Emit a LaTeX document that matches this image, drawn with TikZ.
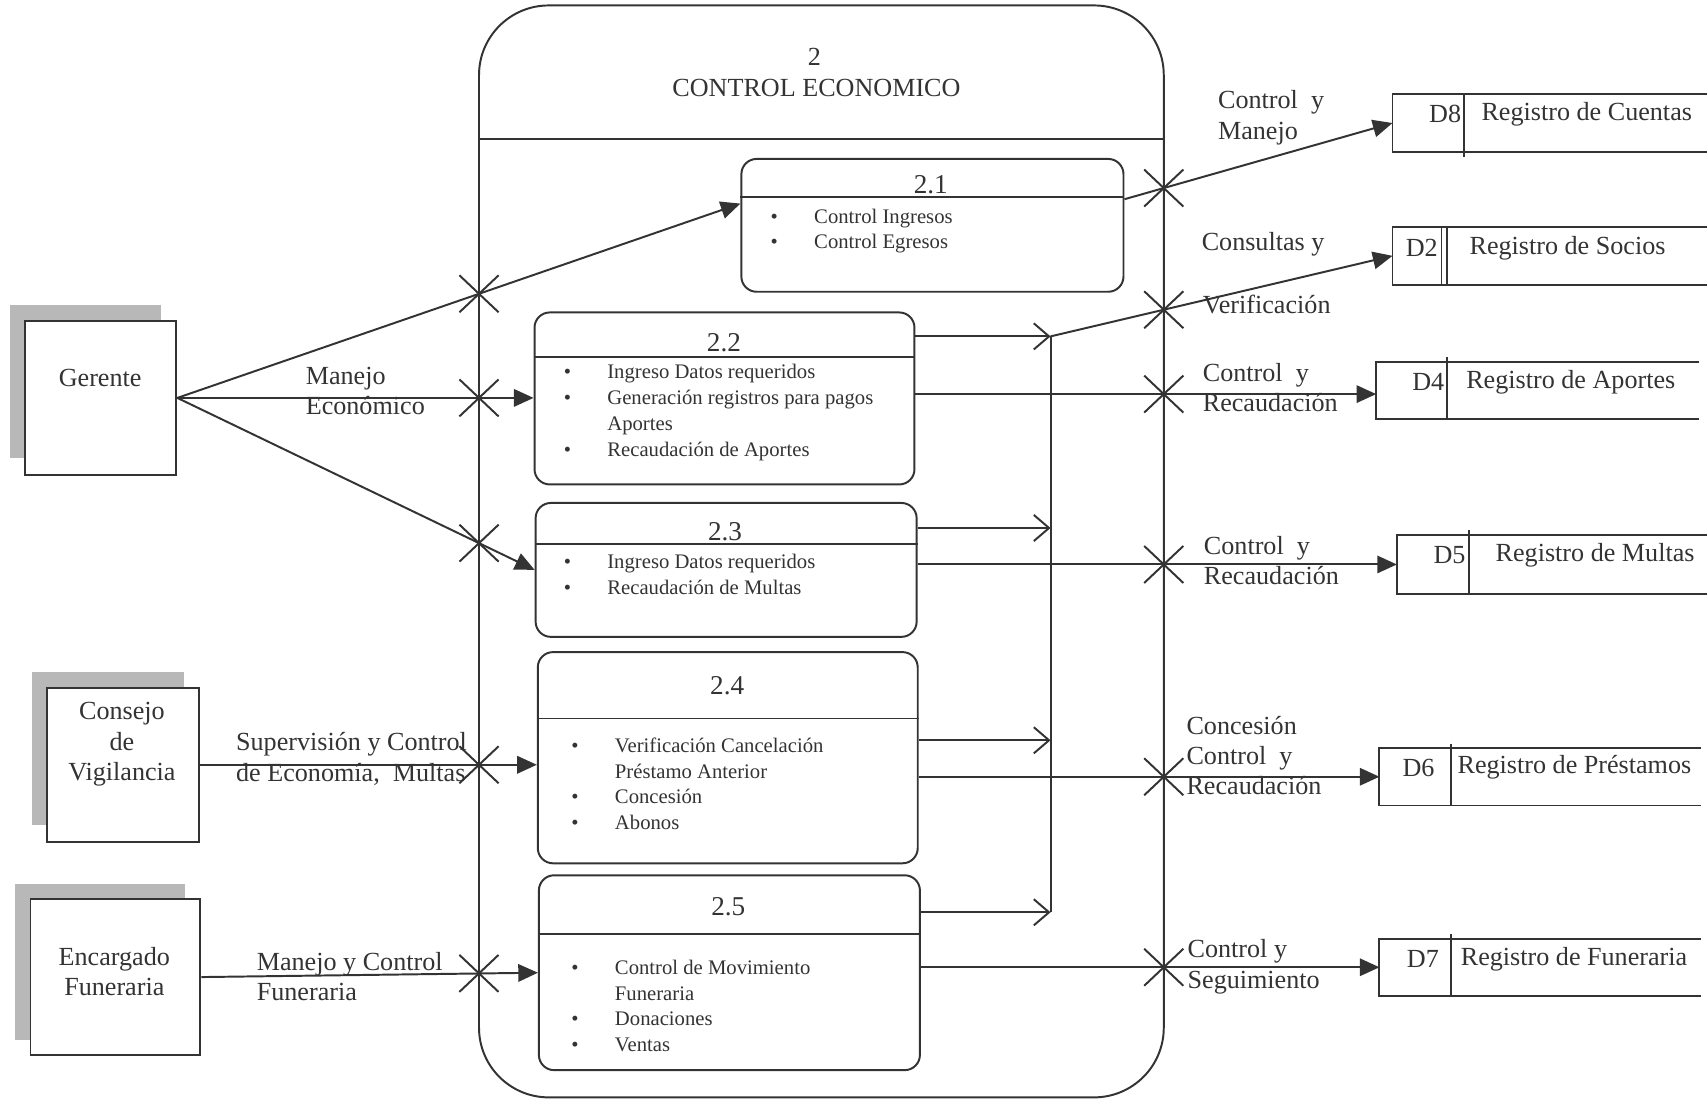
\documentclass[tikz,border=0pt]{standalone}
\usepackage{fontspec}
\setmainfont{Liberation Serif}
\usetikzlibrary{arrows.meta,calc}
\newcommand\itm{\makebox[20pt][l]{\textbullet}}
\newcommand\noitm{\makebox[20pt][l]{}}
\begin{document}
\begin{tikzpicture}[x=0.5pt,y=-0.5pt, line width=0.9pt, color=black!80,
  every node/.style={font=\fontsize{12}{14}\selectfont, inner sep=0pt},
  box/.style={draw, fill=white},
  shadow/.style={fill=black!28, draw=none},
  sub/.style={draw, rounded corners=7pt},
  flow/.style={-{Triangle[length=9pt,width=8pt]}},
  merge/.style={-{Straight Barb[length=7pt,width=12pt]}},
  lbl/.style={align=left, anchor=west},
  small/.style={font=\fontsize{9.5}{11.8}\selectfont, align=left, anchor=north west},
  num/.style={font=\fontsize{12.5}{14}\selectfont}]
\useasboundingbox (0,0) rectangle (1568,1011);

% external entities
\fill[shadow] (9,280) rectangle (148,421);
\node[box, minimum width=69.5pt, minimum height=70.5pt] (ger) at (92.5,365.5) {};
\node at (92,347) {Gerente};
\fill[shadow] (29,617) rectangle (169,758);
\node[box, minimum width=70pt, minimum height=70.5pt] (cons) at (113,702.5) {};
\node[align=center] at (112,684) {Consejo\\de\\Vigilancia};
\fill[shadow] (14,812) rectangle (170,955);
\node[box, minimum width=78pt, minimum height=71.5pt] (enc) at (106,897.5) {};
\node[align=center] at (105,892.5) {Encargado\\Funeraria};

% main process
\node[draw, rounded corners=32pt, minimum width=314.5pt, minimum height=501.5pt] (proc) at (754.5,506.5) {};
\draw (proc.west |- 0,128) -- (proc.east |- 0,128);
\node at (748,52) {2};
\node at (750,81) {CONTROL ECONOMICO};
\coordinate (LT) at (440,0); \coordinate (LB) at (440,1011);
\coordinate (RT) at (1069,0); \coordinate (RB) at (1069,1011);

% sub processes
\node[sub, minimum width=175.5pt, minimum height=61pt] (p21) at (856.5,207) {};
\draw (p21.west |- 0,181) -- (p21.east |- 0,181);
\node[num] at (855,170) {2.1};
\node[small] at (707,191) {\itm Control Ingresos\\\itm Control Egresos};

\node[sub, minimum width=174.5pt, minimum height=79pt] (p22) at (665.5,366) {};
\draw (p22.west |- 0,328) -- (p22.east |- 0,328);
\node[num] at (665,315) {2.2};
\node[small] at (517,334) {\itm Ingreso Datos requeridos\\\itm Generación registros para pagos\\\noitm Aportes\\\itm Recaudación de Aportes};

\node[sub, minimum width=175pt, minimum height=61.5pt] (p23) at (667,523.5) {};
\draw (p23.west |- 0,500) -- (p23.east |- 0,500);
\node[num] at (666,488) {2.3};
\node[small] at (517,508) {\itm Ingreso Datos requeridos\\\itm Recaudación de Multas};

\node[sub, minimum width=174.5pt, minimum height=97pt] (p24) at (668.5,696) {};
\draw (p24.west |- 0,660) -- (p24.east |- 0,660);
\node[num] at (668,630) {2.4};
\node[small] at (524,677) {\itm Verificación Cancelación\\\noitm Préstamo Anterior\\\itm Concesión\\\itm Abonos};

\node[sub, minimum width=175pt, minimum height=89.5pt] (p25) at (670,893.5) {};
\draw (p25.west |- 0,858) -- (p25.east |- 0,858);
\node[num] at (669,833) {2.5};
\node[small] at (524,881) {\itm Control de Movimiento\\\noitm Funeraria\\\itm Donaciones\\\itm Ventas};

% data stores
\node[minimum width=144pt, minimum height=26pt] (d8) at (1424,113) {};
\draw (d8.north east) -- (d8.north west) -- (d8.south west) -- (d8.south east);
\draw ([xshift=33pt]d8.north west) -- ([xshift=33pt,yshift=-2pt]d8.south west);
\node[anchor=east] at (1343,105) {D8};
\node[anchor=west] at (1360,105) {Registro de Cuentas};

\node[minimum width=144pt, minimum height=26pt] (d2) at (1424,235) {};
\draw (d2.north east) -- (d2.north west) -- (d2.south west) -- (d2.south east);
\draw ([xshift=22.5pt]d2.north west) -- ([xshift=22.5pt]d2.south west);
\draw ([xshift=25pt]d2.north west) -- ([xshift=25pt]d2.south west);
\node at (1306,228) {D2};
\node[anchor=west] at (1349,228) {Registro de Socios};

\node[minimum width=147.5pt, minimum height=25.5pt] (d4) at (1412.5,358.5) {};
\draw (d4.north east) -- (d4.north west) -- (d4.south west) -- (d4.south east);
\draw ([xshift=32.5pt,yshift=2pt]d4.north west) -- ([xshift=32.5pt]d4.south west);
\node at (1312,351) {D4};
\node[anchor=west] at (1346,351) {Registro de Aportes};

\node[minimum width=142pt, minimum height=26.5pt] (d5) at (1426,518.5) {};
\draw (d5.north east) -- (d5.north west) -- (d5.south west) -- (d5.south east);
\draw ([xshift=33pt,yshift=2pt]d5.north west) -- ([xshift=33pt]d5.south west);
\node[anchor=east] at (1347,510) {D5};
\node[anchor=west] at (1373,510) {Registro de Multas};

\node[minimum width=147pt, minimum height=25.5pt] (d6) at (1415,713.5) {};
\draw (d6.north east) -- (d6.north west) -- (d6.south west) -- (d6.south east);
\draw ([xshift=33pt,yshift=2pt]d6.north west) -- ([xshift=33pt]d6.south west);
\node at (1303,705) {D6};
\node[anchor=west] at (1338,705) {Registro de Préstamos};

\node[minimum width=147pt, minimum height=25.5pt] (d7) at (1415,888.5) {};
\draw (d7.north east) -- (d7.north west) -- (d7.south west) -- (d7.south east);
\draw ([xshift=33pt,yshift=2pt]d7.north west) -- ([xshift=33pt]d7.south west);
\node at (1307,881) {D7};
\node[anchor=west] at (1341,881) {Registro de Funeraria};

% flows in
\coordinate (gE) at (ger.east);
\coordinate (p21in) at ([yshift=10pt]p21.west);
\coordinate (p23W) at (p23.west);
\coordinate (eE) at (enc.east);
\coordinate (p25W) at (p25.west);
\draw[flow] (gE) -- (p21in);
\draw[flow] (gE) -- (gE -| p22.west);
\draw[flow] (gE) -- (p23W);
\draw[flow] (cons.east) -- (cons.east -| p24.west);
\draw[flow] (eE) -- (p25W);

% collector
\coordinate (c2) at (965,309);
\coordinate (c3) at (965,485);
\coordinate (c4) at (965,680);
\coordinate (c5) at (965,838);
\draw[merge] (p22.east |- c2) -- (c2);
\draw[merge] (p23.east |- c3) -- (c3);
\draw[merge] (p24.east |- c4) -- (c4);
\draw[merge] (p25.east |- c5) -- (c5);
\draw (c2) -- (c5);
\coordinate (d2W) at (d2.west);
\draw[flow] (c2) -- (d2W);

% flows out
\coordinate (p21out) at ([yshift=12pt]p21.east);
\coordinate (d8W) at (d8.west);
\coordinate (p22out) at ([yshift=2pt]p22.east);
\draw[flow] (p21out) -- (d8W);
\draw[flow] (p22out) -- (p22out -| d4.west);
\draw[flow] (d5.west -| p23.east) -- (d5.west);
\draw[flow] (d6.west -| p24.east) -- (d6.west);
\draw[flow] (d7.west -| p25.east) -- (d7.west);

% cross marks
\coordinate (xa) at (intersection of gE--p21in and LT--LB);
\coordinate (xb) at (gE -| LT);
\coordinate (xc) at (intersection of gE--p23W and LT--LB);
\coordinate (xd) at (cons.east -| LT);
\coordinate (xe) at (intersection of eE--p25W and LT--LB);
\coordinate (xf) at (intersection of p21out--d8W and RT--RB);
\coordinate (xg) at (intersection of c2--d2W and RT--RB);
\coordinate (xh) at (p22out -| RT);
\coordinate (xi) at (d5.west -| RT);
\coordinate (xj) at (d6.west -| RT);
\coordinate (xk) at (d7.west -| RT);
\foreach \p in {xa,xb,xc,xd,xe,xf,xg,xh,xi,xj,xk}
  \draw (\p) +(-18,-17) -- +(18,17) +(-18,17) -- +(18,-17);

% labels
\node[lbl] at (280,359) {Manejo\\Económico};
\node[lbl] at (216,697) {Supervisión y Control\\de Economía,\ \ Multas};
\node[lbl] at (235,897) {Manejo y Control\\Funeraria};
\node[lbl] at (1118,108) {Control\ \ y\\Manejo};
\node[lbl] at (1103,224) {Consultas y};
\node[lbl] at (1104,280) {Verificación};
\node[lbl] at (1104,356) {Control\ \ y\\Recaudación};
\node[lbl] at (1105,515) {Control\ \ y\\Recaudación};
\node[lbl] at (1089,694) {Concesión\\Control\ \ y\\Recaudación};
\node[lbl] at (1090,888) {Control y\\Seguimiento};
\end{tikzpicture}
\end{document}
